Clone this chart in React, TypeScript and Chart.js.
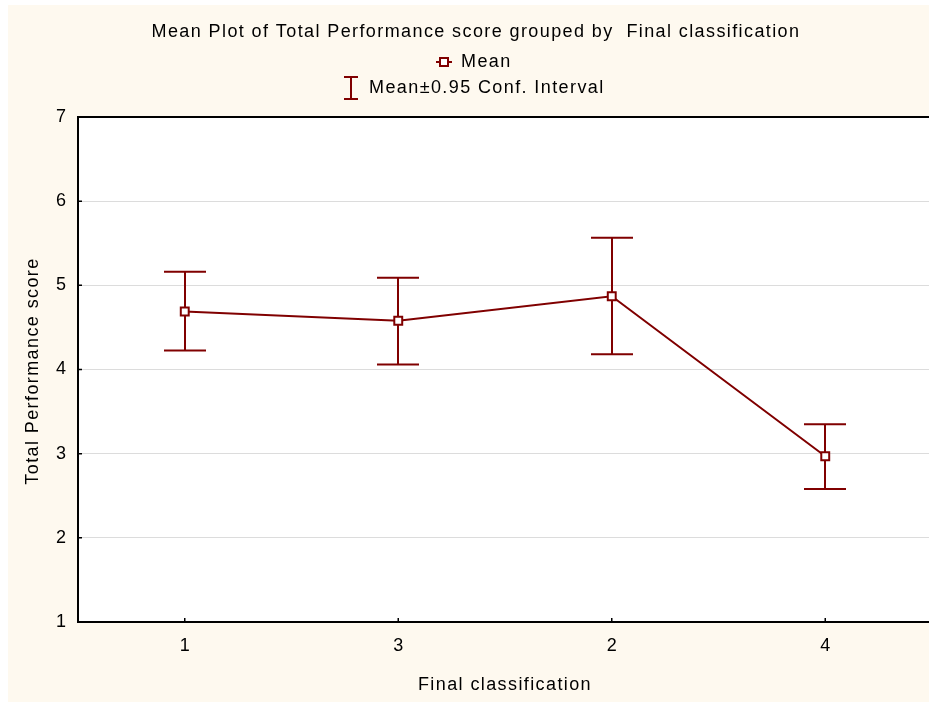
import React, { useEffect, useRef } from "react";
import { Chart, registerables } from "chart.js";

Chart.register(...registerables);

const categories = ["1", "3", "2", "4"];
const means = [4.69, 4.58, 4.87, 2.97];
const upper = [5.16, 5.09, 5.565, 3.35];
const lower = [4.225, 4.06, 4.18, 2.58];
const yTicks = [1, 2, 3, 4, 5, 6, 7];

const TITLE = "Mean Plot of Total Performance score grouped by  Final classification";
const LEGEND_MEAN = "Mean";
const LEGEND_CI = "Mean\u00b10.95 Conf. Interval";
const Y_TITLE = "Total Performance score";
const X_TITLE = "Final classification";

const RED = "#800000";
const FONT = "'Liberation Sans', Arial, sans-serif";
const BG = "#FEF9EF";
const CW = 924;
const CH = 697;

export default function App() {
  const ref = useRef<HTMLCanvasElement | null>(null);

  useEffect(() => {
    if (!ref.current) return;
    const decor = {
      id: "decor",
      beforeDraw(chart: any) {
        const { ctx, chartArea: a } = chart;
        ctx.save();
        ctx.fillStyle = BG;
        ctx.fillRect(0, 0, chart.width, chart.height);
        ctx.fillStyle = "#ffffff";
        ctx.fillRect(a.left, a.top, a.right - a.left, a.bottom - a.top);
        ctx.restore();
      },
      beforeDatasetsDraw(chart: any) {
        const { ctx } = chart;
        const xs = chart.scales.x;
        const ys = chart.scales.y;
        ctx.save();
        ctx.strokeStyle = RED;
        ctx.lineWidth = 2;
        categories.forEach((_, i) => {
          const x = Math.round(xs.getPixelForValue(i));
          const yu = ys.getPixelForValue(upper[i]);
          const yl = ys.getPixelForValue(lower[i]);
          ctx.beginPath();
          ctx.moveTo(x, yu);
          ctx.lineTo(x, yl);
          ctx.moveTo(x - 21, yu);
          ctx.lineTo(x + 21, yu);
          ctx.moveTo(x - 21, yl);
          ctx.lineTo(x + 21, yl);
          ctx.stroke();
        });
        ctx.restore();
      },
      afterDraw(chart: any) {
        const { ctx, chartArea: a } = chart;
        const xs = chart.scales.x;
        const ys = chart.scales.y;
        ctx.save();
        ctx.strokeStyle = "#000";
        ctx.lineWidth = 2;
        ctx.strokeRect(a.left, a.top, a.right - a.left, a.bottom - a.top);
        ctx.lineWidth = 1.5;
        ctx.beginPath();
        yTicks.forEach((v) => {
          const y = ys.getPixelForValue(v);
          ctx.moveTo(a.left, y);
          ctx.lineTo(a.left + 4, y);
        });
        categories.forEach((_, i) => {
          const x = xs.getPixelForValue(i);
          ctx.moveTo(x, a.bottom);
          ctx.lineTo(x, a.bottom - 4);
        });
        ctx.stroke();

        ctx.fillStyle = "#000";
        ctx.font = `18px ${FONT}`;
        (ctx as any).letterSpacing = "1.4px";
        ctx.textAlign = "center";
        ctx.textBaseline = "middle";
        ctx.fillText(TITLE, 468, 27);

        ctx.strokeStyle = RED;
        ctx.lineWidth = 2;
        ctx.beginPath();
        ctx.moveTo(428, 57);
        ctx.lineTo(444, 57);
        ctx.stroke();
        ctx.fillStyle = "#fff";
        ctx.fillRect(432, 53, 8, 8);
        ctx.strokeRect(432, 53, 8, 8);
        ctx.fillStyle = "#000";
        ctx.textAlign = "left";
        ctx.fillText(LEGEND_MEAN, 453, 57);

        ctx.beginPath();
        ctx.moveTo(343, 72);
        ctx.lineTo(343, 94);
        ctx.moveTo(336, 72);
        ctx.lineTo(350, 72);
        ctx.moveTo(336, 94);
        ctx.lineTo(350, 94);
        ctx.stroke();
        ctx.fillText(LEGEND_CI, 361, 83);

        ctx.textAlign = "center";
        ctx.fillText(X_TITLE, 497, 680);
        ctx.translate(25, 366);
        ctx.rotate(-Math.PI / 2);
        ctx.fillText(Y_TITLE, 0, 0);
        ctx.restore();
      },
    };

    const chart = new Chart(ref.current, {
      type: "line",
      data: {
        labels: categories,
        datasets: [
          {
            label: "Mean",
            data: means,
            borderColor: RED,
            borderWidth: 2,
            pointStyle: "rect",
            pointRadius: 5.6,
            pointBorderWidth: 2,
            pointBorderColor: RED,
            pointBackgroundColor: "#ffffff",
            tension: 0,
          },
        ],
      },
      options: {
        responsive: false,
        maintainAspectRatio: false,
        animation: false,
        devicePixelRatio: 1,
        layout: { autoPadding: false, padding: { top: 112, right: 0, left: 0, bottom: 0 } },
        plugins: {
          legend: { display: false },
          title: { display: false },
          tooltip: { enabled: false },
        },
        scales: {
          x: {
            type: "category",
            offset: true,
            grid: { display: false, drawTicks: false },
            border: { display: false },
            ticks: {
              padding: 13,
              color: "#000",
              font: { family: FONT, size: 18 },
              maxRotation: 0,
            },
            afterFit(scale: any) {
              scale.height = CH - 617;
            },
          },
          y: {
            min: 1,
            max: 7,
            ticks: {
              stepSize: 1,
              padding: 12,
              color: "#000",
              font: { family: FONT, size: 18 },
            },
            grid: { color: "#dcdcdc", lineWidth: 1, drawTicks: false },
            border: { display: false },
            afterFit(scale: any) {
              scale.width = 70;
            },
          },
        },
      },
      plugins: [decor],
    });
    return () => chart.destroy();
  }, []);

  return (
    <div
      style={{
        position: "absolute",
        left: 8,
        top: 5,
        width: 921,
        height: CH,
        overflow: "hidden",
      }}
    >
      <div style={{ width: CW, height: CH }}>
        <canvas
          ref={ref}
          width={CW}
          height={CH}
          style={{ display: "block", width: CW, height: CH }}
        />
      </div>
    </div>
  );
}
